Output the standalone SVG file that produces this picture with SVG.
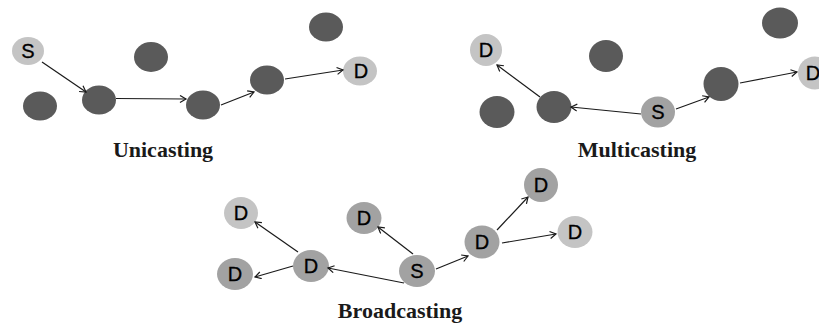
<svg xmlns="http://www.w3.org/2000/svg" width="819" height="326" viewBox="0 0 819 326">
<defs>
<style>
.dark{fill:#5a5a5a}
.light{fill:#c4c4c4}
.mid{fill:#a2a2a2}
.lbl{font-family:"Liberation Sans",Arial,sans-serif;font-size:20px;fill:#000;stroke:#000;stroke-width:0.3;text-anchor:middle}
.title{font-family:"Liberation Serif","Times New Roman",serif;font-size:22px;font-weight:bold;fill:#1a1a1a;text-anchor:middle}
.edge{stroke:#1a1a1a;stroke-width:1.2;fill:none;marker-end:url(#arr)}
</style>
<marker id="arr" markerWidth="10" markerHeight="10" refX="7" refY="4" orient="auto" markerUnits="userSpaceOnUse">
<path d="M1,0.5 L7,4 L1,7.5" fill="none" stroke="#1a1a1a" stroke-width="1.2"/>
</marker>
</defs>
<rect width="819" height="326" fill="#fff"/>

<!-- Unicasting -->
<g id="uni-S"><ellipse class="light" cx="28" cy="51" rx="16" ry="14"/><text class="lbl" x="28" y="58">S</text></g>
<g id="uni-n1"><ellipse class="dark" cx="40" cy="106" rx="17" ry="14.5"/></g>
<g id="uni-n2"><ellipse class="dark" cx="99" cy="100" rx="17" ry="14.5"/></g>
<g id="uni-n3"><ellipse class="dark" cx="151" cy="57" rx="17" ry="15"/></g>
<g id="uni-n4"><ellipse class="dark" cx="203" cy="105" rx="17" ry="14.5"/></g>
<g id="uni-n5"><ellipse class="dark" cx="267" cy="80" rx="17" ry="14.5"/></g>
<g id="uni-n6"><ellipse class="dark" cx="326" cy="27" rx="17" ry="14.5"/></g>
<g id="uni-D"><ellipse class="light" cx="360" cy="71" rx="17" ry="14.5"/><text class="lbl" x="361" y="78">D</text></g>
<text class="title" x="163" y="157">Unicasting</text>

<!-- Multicasting -->
<g id="mul-D1"><ellipse class="light" cx="486" cy="50" rx="16" ry="16"/><text class="lbl" x="486" y="57">D</text></g>
<g id="mul-n1"><ellipse class="dark" cx="606" cy="56" rx="17" ry="16"/></g>
<g id="mul-n2"><ellipse class="dark" cx="780" cy="23" rx="18" ry="15.5"/></g>
<g id="mul-n3"><ellipse class="dark" cx="497" cy="112" rx="17.5" ry="16"/></g>
<g id="mul-n4"><ellipse class="dark" cx="554" cy="107" rx="17.5" ry="16"/></g>
<g id="mul-S"><ellipse class="mid" cx="658" cy="112" rx="17" ry="15.5"/><text class="lbl" x="658" y="119">S</text></g>
<g id="mul-n5"><ellipse class="dark" cx="721" cy="84" rx="17.5" ry="17"/></g>
<g id="mul-D2"><ellipse class="light" cx="815" cy="73" rx="17" ry="16.5"/><text class="lbl" x="813" y="80">D</text></g>
<text class="title" x="637" y="157">Multicasting</text>

<!-- Broadcasting -->
<g id="bc-D1"><ellipse class="light" cx="241" cy="213" rx="17" ry="16"/><text class="lbl" x="241" y="220">D</text></g>
<g id="bc-D2"><ellipse class="mid" cx="235" cy="274" rx="18" ry="16"/><text class="lbl" x="235" y="281">D</text></g>
<g id="bc-D3"><ellipse class="mid" cx="311" cy="266" rx="18" ry="16"/><text class="lbl" x="311" y="273">D</text></g>
<g id="bc-D4"><ellipse class="mid" cx="364" cy="218" rx="17.5" ry="16"/><text class="lbl" x="364" y="225">D</text></g>
<g id="bc-S"><ellipse class="mid" cx="417" cy="271" rx="18" ry="16"/><text class="lbl" x="417" y="278">S</text></g>
<g id="bc-D5"><ellipse class="mid" cx="482" cy="242" rx="17.5" ry="16.5"/><text class="lbl" x="482" y="249">D</text></g>
<g id="bc-D6"><ellipse class="mid" cx="541" cy="185" rx="17" ry="17"/><text class="lbl" x="541" y="192">D</text></g>
<g id="bc-D7"><ellipse class="light" cx="575" cy="232" rx="17.5" ry="16"/><text class="lbl" x="575" y="239">D</text></g>
<text class="title" x="400" y="318">Broadcasting</text>

<g id="connectors">
<line class="edge" x1="42" y1="62" x2="86" y2="92"/>
<line class="edge" x1="116" y1="98.5" x2="186" y2="99"/>
<line class="edge" x1="221" y1="105" x2="254" y2="92"/>
<line class="edge" x1="285" y1="79" x2="343" y2="70"/>

<line class="edge" x1="641" y1="114" x2="571" y2="107"/>
<line class="edge" x1="540" y1="97" x2="497" y2="65"/>
<line class="edge" x1="676" y1="109" x2="709" y2="97"/>
<line class="edge" x1="740" y1="83" x2="797" y2="72"/>

<line class="edge" x1="404" y1="283" x2="328" y2="268"/>
<line class="edge" x1="298" y1="252" x2="255" y2="222"/>
<line class="edge" x1="293" y1="266" x2="255" y2="277"/>
<line class="edge" x1="413" y1="254" x2="378" y2="227"/>
<line class="edge" x1="436" y1="269" x2="468" y2="256"/>
<line class="edge" x1="497" y1="230" x2="528" y2="197"/>
<line class="edge" x1="502" y1="243" x2="556" y2="234"/>
</g>
</svg>
